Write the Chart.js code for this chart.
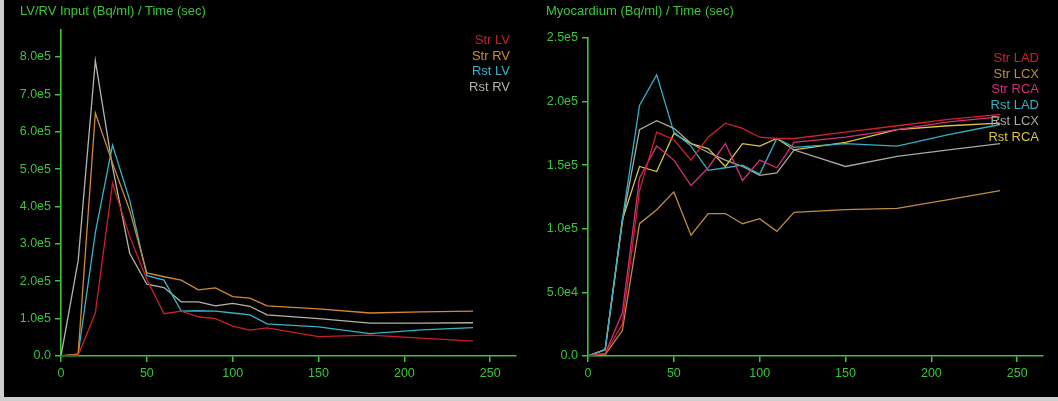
<!DOCTYPE html>
<html>
<head>
<meta charset="utf-8">
<script src="https://cdn.jsdelivr.net/npm/chart.js@4.4.0/dist/chart.umd.min.js"></script>
<style>
  html, body { margin: 0; padding: 0; background: #cfcfcf; }
  #frame { position: absolute; left: 4px; top: 0; width: 1054px; height: 397px; background: #000; }
  .cv { position: absolute; top: 0; }
  .title { position: absolute; top: 3px; color: #3cc43c; font: 13px "Liberation Sans", Arial, sans-serif; white-space: nowrap; }
  .legend { position: absolute; text-align: right; font: 13px "Liberation Sans", Arial, sans-serif; line-height: 15.7px; }
</style>
</head>
<body>
<div id="frame"></div>
<canvas id="c1" class="cv" width="528" height="401" style="left:0"></canvas>
<canvas id="c2" class="cv" width="530" height="401" style="left:528px"></canvas>
<div class="title" style="left:20px">LV/RV Input (Bq/ml) / Time (sec)</div>
<div class="title" style="left:546px">Myocardium (Bq/ml) / Time (sec)</div>
<div id="leg1" class="legend" style="right:548px; top:32px"></div>
<div id="leg2" class="legend" style="right:19px; top:50px"></div>
<script>
// time points (sec)
const times = [0, 10, 20, 30, 40, 50, 60, 70, 80, 90, 100, 110, 120, 150, 180, 210, 240];

// LV/RV input (Bq/ml)
const strLV = [0, 2000, 115000, 462000, 320000, 205000, 113000, 120000, 105000, 100000, 80000, 69000, 75000, 52000, 56000, 48000, 40000];
const strRV = [0, 5000, 650000, 516000, 390000, 222000, 212000, 203000, 177000, 182000, 159000, 155000, 134000, 126000, 115000, 118000, 120000];
const rstLV = [0, 5000, 330000, 564000, 417000, 215000, 203000, 120000, 121000, 120000, 115000, 110000, 86000, 78000, 60000, 70000, 76000];
const rstRV = [0, 255000, 790000, 506000, 275000, 192000, 183000, 145000, 145000, 134000, 141000, 133000, 110000, 100000, 88000, 88000, 89000];

// Myocardium (Bq/ml)
const strLAD = [0, 2000, 25000, 130000, 176000, 170000, 154000, 172000, 183000, 179000, 172000, 171000, 171000, 176000, 181000, 186000, 190000];
const strLCX = [0, 1000, 20000, 104000, 115000, 129000, 95000, 112000, 112000, 104000, 108000, 98000, 113000, 115000, 116000, 123000, 130000];
const strRCA = [0, 2000, 34000, 140000, 165000, 154000, 134000, 148000, 167000, 138000, 154000, 148000, 168000, 172000, 178000, 184000, 188000];
const rstLAD = [0, 5000, 107000, 197000, 221000, 176000, 165000, 146000, 148000, 150000, 143000, 171000, 164000, 167000, 165000, 174000, 182000];
const rstLCX = [0, 5000, 105000, 178000, 185000, 179000, 167000, 160000, 154000, 149000, 142000, 144000, 162000, 149000, 157000, 162000, 167000];
const rstRCA = [0, 5000, 107000, 149000, 145000, 175000, 167000, 163000, 149000, 167000, 165000, 171000, 162000, 168000, 178000, 181000, 183000];

// tick labels
const xTicks = [0, 50, 100, 150, 200, 250];
const yTicksLeft = [0, 100000, 200000, 300000, 400000, 500000, 600000, 700000, 800000];
const yTicksRight = [0, 50000, 100000, 150000, 200000, 250000];

const GREEN = '#3cc43c';
const FONT = { family: '"Liberation Sans", Arial, sans-serif', size: 12.5 };

function pts(vals) { return vals.map((v, i) => ({ x: times[i], y: v })); }
function fmt(v) { return v === 0 ? '0.0' : Number(v).toExponential(1).replace('+', ''); }

function makeChart(id, series, yMax, yTicks, yWidth, pad) {
  return new Chart(document.getElementById(id), {
    type: 'line',
    data: {
      datasets: series.map(s => ({
        label: s.label, data: pts(s.data), borderColor: s.color,
        borderWidth: 1.3, pointRadius: 0, tension: 0, fill: false
      }))
    },
    options: {
      responsive: false, animation: false,
      layout: { padding: pad },
      plugins: { legend: { display: false }, tooltip: { enabled: false } },
      scales: {
        x: {
          type: 'linear', min: 0, max: 265,
          afterBuildTicks: s => { s.ticks = xTicks.map(v => ({ value: v })); },
          afterFit: s => { s.height = 30; },
          border: { color: GREEN, width: 1.6 },
          grid: { display: true, drawOnChartArea: false, color: GREEN, tickLength: 6, lineWidth: 1.5 },
          ticks: { color: GREEN, font: FONT, padding: 4, maxRotation: 0 }
        },
        y: {
          type: 'linear', min: 0, max: yMax,
          afterBuildTicks: s => { s.ticks = yTicks.map(v => ({ value: v })); },
          ticks: { color: GREEN, font: FONT, padding: 4, callback: fmt },
          afterFit: s => { s.width = yWidth; },
          border: { color: GREEN, width: 1.6 },
          grid: { display: true, drawOnChartArea: false, color: GREEN, tickLength: 6, lineWidth: 1.5 }
        }
      }
    }
  });
}

const left = [
  { label: 'Str LV', data: strLV, color: '#c8202a' },
  { label: 'Str RV', data: strRV, color: '#d08a34' },
  { label: 'Rst LV', data: rstLV, color: '#34b4c8' },
  { label: 'Rst RV', data: rstRV, color: '#b4b4a8' }
];
const right = [
  { label: 'Str LAD', data: strLAD, color: '#d0202e' },
  { label: 'Str LCX', data: strLCX, color: '#c08a44' },
  { label: 'Str RCA', data: strRCA, color: '#d0307c' },
  { label: 'Rst LAD', data: rstLAD, color: '#34b0c8' },
  { label: 'Rst LCX', data: rstLCX, color: '#a8a8a0' },
  { label: 'Rst RCA', data: rstRCA, color: '#dcc43c' }
];

makeChart('c1', left, 872000, yTicksLeft, 61, { left: 0, right: 12, top: 30, bottom: 15 });
makeChart('c2', right, 250000, yTicksRight, 60, { left: 0, right: 15, top: 38, bottom: 15 });

function legend(id, series) {
  const el = document.getElementById(id);
  series.forEach(s => {
    const d = document.createElement('div');
    d.textContent = s.label;
    d.style.color = s.color;
    el.appendChild(d);
  });
}
legend('leg1', left);
legend('leg2', right);
</script>
</body>
</html>
